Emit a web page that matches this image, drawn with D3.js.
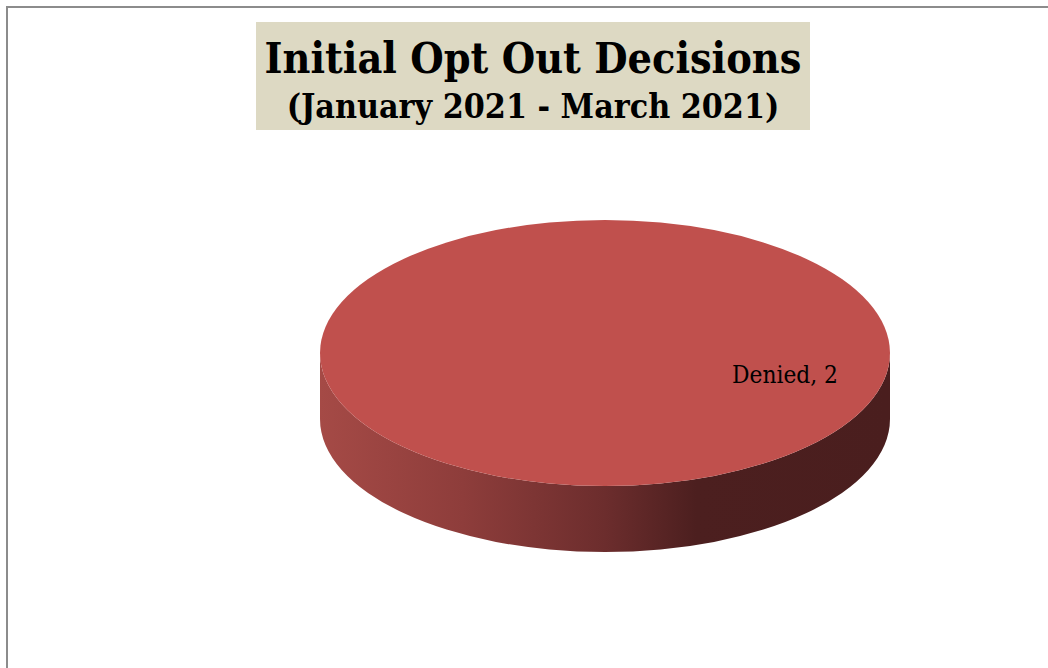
<!DOCTYPE html>
<html>
<head>
<meta charset="utf-8">
<script src="https://cdn.jsdelivr.net/npm/d3@7"></script>
<style>
  body { margin: 0; background: #fff; }
  svg { display: block; }
</style>
</head>
<body>
<svg></svg>
<script>
// chart data
var categories = ["Denied"];
var values = [2];
var title = "Initial Opt Out Decisions";
var subtitle = "(January 2021 - March 2021)";

var svgWidth = 1048, svgHeight = 668;
var cx = 605, cy = 353, rx = 285, ry = 133, depth = 66;

var svg = d3.select("svg")
    .attr("width", svgWidth)
    .attr("height", svgHeight);

// outer frame
svg.append("path")
    .attr("d", "M7,668 L7,7 L1048,7")
    .attr("fill", "none")
    .attr("stroke", "#8c8c8c")
    .attr("stroke-width", 2);

// title box
svg.append("rect")
    .attr("x", 256).attr("y", 22)
    .attr("width", 554).attr("height", 108)
    .attr("fill", "#ddd9c3");

function fitText(sel, w) {
    var len = sel.node().getComputedTextLength();
    var fs = parseFloat(sel.style("font-size"));
    sel.style("font-size", (fs * w / len) + "px");
}

var t1 = svg.append("text")
    .attr("x", 533).attr("y", 73)
    .attr("text-anchor", "middle")
    .style("font", "bold 44px 'DejaVu Serif Condensed', 'DejaVu Serif'")
    .attr("fill", "#000")
    .text(title);
fitText(t1, 537);

var t2 = svg.append("text")
    .attr("x", 533).attr("y", 118)
    .attr("text-anchor", "middle")
    .style("font", "bold 34px 'DejaVu Serif Condensed', 'DejaVu Serif'")
    .attr("fill", "#000")
    .text(subtitle);
fitText(t2, 493);

// side gradient
var grad = svg.append("defs").append("linearGradient")
    .attr("id", "sideGrad")
    .attr("x1", "0%").attr("x2", "100%")
    .attr("y1", "0%").attr("y2", "0%");
grad.append("stop").attr("offset", "0%").attr("stop-color", "#a54a46");
grad.append("stop").attr("offset", "25%").attr("stop-color", "#8e3d3b");
grad.append("stop").attr("offset", "50%").attr("stop-color", "#6c2d2d");
grad.append("stop").attr("offset", "66%").attr("stop-color", "#4c1f1f");
grad.append("stop").attr("offset", "100%").attr("stop-color", "#4a1e1e");

var pie = d3.pie().sort(null).value(function(d) { return d; });
var arcs = pie(values);

function pt(a, dy) {
    return [cx + rx * Math.sin(a), cy - ry * Math.cos(a) + (dy || 0)];
}

// side wall (front half only)
arcs.forEach(function(d) {
    var a0 = Math.max(d.startAngle, Math.PI / 2);
    var a1 = Math.min(d.endAngle, Math.PI * 3 / 2);
    if (a1 <= a0) return;
    var p0 = pt(a0), p1 = pt(a1), p2 = pt(a1, depth), p3 = pt(a0, depth);
    var large = (a1 - a0) > Math.PI ? 1 : 0;
    var path = "M" + p0 + " A" + rx + "," + ry + " 0 " + large + " 1 " + p1 +
        " L" + p2 + " A" + rx + "," + ry + " 0 " + large + " 0 " + p3 + " Z";
    svg.append("path")
        .attr("d", path)
        .attr("fill", "url(#sideGrad)");
});

// top face
var arc = d3.arc().innerRadius(0).outerRadius(rx);
svg.append("g")
    .attr("transform", "translate(" + cx + "," + cy + ") scale(1," + (ry / rx) + ")")
    .selectAll("path")
    .data(arcs)
    .enter()
    .append("path")
    .attr("d", arc)
    .attr("fill", "#c0504d");

// data label
svg.selectAll("text.lbl")
    .data(arcs)
    .enter()
    .append("text")
    .attr("class", "lbl")
    .attr("x", 785).attr("y", 383)
    .attr("text-anchor", "middle")
    .style("font", "21px 'DejaVu Serif Condensed', 'DejaVu Serif'")
    .attr("fill", "#000")
    .text(function(d, i) { return categories[i] + ", " + d.value; })
    .each(function() { fitText(d3.select(this), 106); });
</script>
</body>
</html>
